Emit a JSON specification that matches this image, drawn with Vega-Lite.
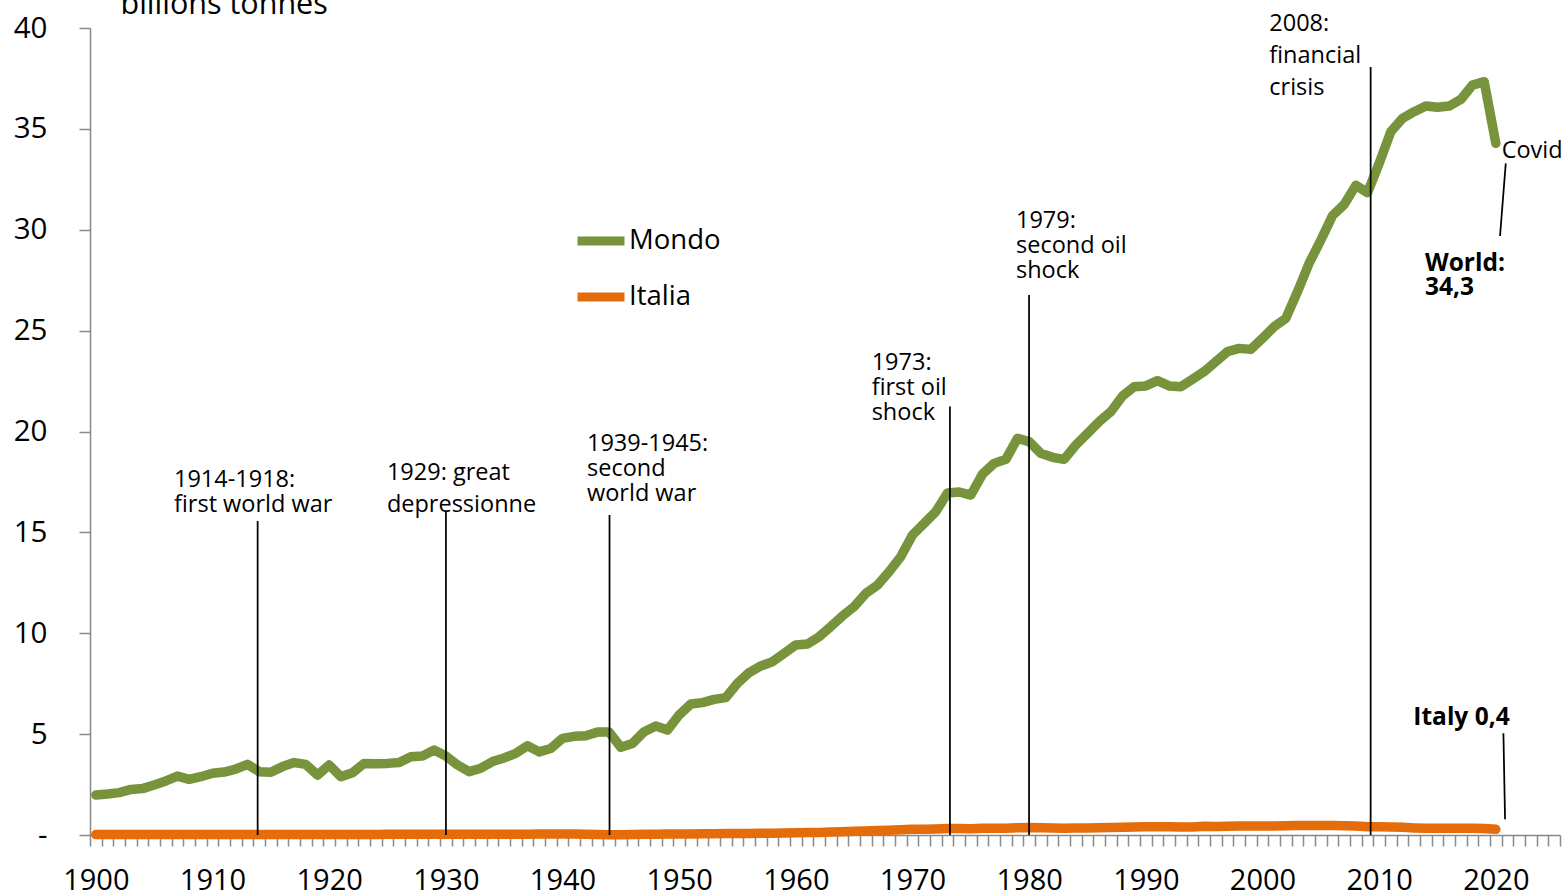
{
  "$schema": "https://vega.github.io/schema/vega-lite/v6.json",
  "width": 1470,
  "height": 807,
  "autosize": {"type": "none"},
  "padding": {"left": 90, "top": 28, "right": 2, "bottom": 60},
  "background": "white",
  "config": {"font": "Open Sans", "view": {"stroke": null}},
  "datasets": {
    "series": [
      {"year":1900,"series":"Mondo","value":1.98},{"year":1901,"series":"Mondo","value":2.03},{"year":1902,"series":"Mondo","value":2.10},{"year":1903,"series":"Mondo","value":2.26},{"year":1904,"series":"Mondo","value":2.30},{"year":1905,"series":"Mondo","value":2.48},{"year":1906,"series":"Mondo","value":2.68},{"year":1907,"series":"Mondo","value":2.92},{"year":1908,"series":"Mondo","value":2.76},{"year":1909,"series":"Mondo","value":2.89},
      {"year":1910,"series":"Mondo","value":3.06},{"year":1911,"series":"Mondo","value":3.12},{"year":1912,"series":"Mondo","value":3.27},{"year":1913,"series":"Mondo","value":3.50},{"year":1914,"series":"Mondo","value":3.14},{"year":1915,"series":"Mondo","value":3.11},{"year":1916,"series":"Mondo","value":3.39},{"year":1917,"series":"Mondo","value":3.59},{"year":1918,"series":"Mondo","value":3.50},{"year":1919,"series":"Mondo","value":2.97},
      {"year":1920,"series":"Mondo","value":3.47},{"year":1921,"series":"Mondo","value":2.89},{"year":1922,"series":"Mondo","value":3.09},{"year":1923,"series":"Mondo","value":3.55},{"year":1924,"series":"Mondo","value":3.53},{"year":1925,"series":"Mondo","value":3.55},{"year":1926,"series":"Mondo","value":3.59},{"year":1927,"series":"Mondo","value":3.88},{"year":1928,"series":"Mondo","value":3.92},{"year":1929,"series":"Mondo","value":4.21},
      {"year":1930,"series":"Mondo","value":3.92},{"year":1931,"series":"Mondo","value":3.47},{"year":1932,"series":"Mondo","value":3.14},{"year":1933,"series":"Mondo","value":3.31},{"year":1934,"series":"Mondo","value":3.64},{"year":1935,"series":"Mondo","value":3.82},{"year":1936,"series":"Mondo","value":4.05},{"year":1937,"series":"Mondo","value":4.42},{"year":1938,"series":"Mondo","value":4.12},{"year":1939,"series":"Mondo","value":4.29},
      {"year":1940,"series":"Mondo","value":4.79},{"year":1941,"series":"Mondo","value":4.89},{"year":1942,"series":"Mondo","value":4.92},{"year":1943,"series":"Mondo","value":5.10},{"year":1944,"series":"Mondo","value":5.10},{"year":1945,"series":"Mondo","value":4.35},{"year":1946,"series":"Mondo","value":4.54},{"year":1947,"series":"Mondo","value":5.12},{"year":1948,"series":"Mondo","value":5.40},{"year":1949,"series":"Mondo","value":5.20},
      {"year":1950,"series":"Mondo","value":5.95},{"year":1951,"series":"Mondo","value":6.49},{"year":1952,"series":"Mondo","value":6.56},{"year":1953,"series":"Mondo","value":6.72},{"year":1954,"series":"Mondo","value":6.81},{"year":1955,"series":"Mondo","value":7.52},{"year":1956,"series":"Mondo","value":8.05},{"year":1957,"series":"Mondo","value":8.38},{"year":1958,"series":"Mondo","value":8.59},{"year":1959,"series":"Mondo","value":9.00},
      {"year":1960,"series":"Mondo","value":9.42},{"year":1961,"series":"Mondo","value":9.47},{"year":1962,"series":"Mondo","value":9.83},{"year":1963,"series":"Mondo","value":10.33},{"year":1964,"series":"Mondo","value":10.86},{"year":1965,"series":"Mondo","value":11.32},{"year":1966,"series":"Mondo","value":11.98},{"year":1967,"series":"Mondo","value":12.39},{"year":1968,"series":"Mondo","value":13.05},{"year":1969,"series":"Mondo","value":13.80},
      {"year":1970,"series":"Mondo","value":14.87},{"year":1971,"series":"Mondo","value":15.45},{"year":1972,"series":"Mondo","value":16.03},{"year":1973,"series":"Mondo","value":16.95},{"year":1974,"series":"Mondo","value":17.00},{"year":1975,"series":"Mondo","value":16.85},{"year":1976,"series":"Mondo","value":17.89},{"year":1977,"series":"Mondo","value":18.42},{"year":1978,"series":"Mondo","value":18.62},{"year":1979,"series":"Mondo","value":19.66},
      {"year":1980,"series":"Mondo","value":19.50},{"year":1981,"series":"Mondo","value":18.92},{"year":1982,"series":"Mondo","value":18.72},{"year":1983,"series":"Mondo","value":18.62},{"year":1984,"series":"Mondo","value":19.33},{"year":1985,"series":"Mondo","value":19.91},{"year":1986,"series":"Mondo","value":20.49},{"year":1987,"series":"Mondo","value":20.98},{"year":1988,"series":"Mondo","value":21.76},{"year":1989,"series":"Mondo","value":22.22},
      {"year":1990,"series":"Mondo","value":22.26},{"year":1991,"series":"Mondo","value":22.52},{"year":1992,"series":"Mondo","value":22.26},{"year":1993,"series":"Mondo","value":22.22},{"year":1994,"series":"Mondo","value":22.59},{"year":1995,"series":"Mondo","value":22.97},{"year":1996,"series":"Mondo","value":23.46},{"year":1997,"series":"Mondo","value":23.96},{"year":1998,"series":"Mondo","value":24.12},{"year":1999,"series":"Mondo","value":24.07},
      {"year":2000,"series":"Mondo","value":24.62},{"year":2001,"series":"Mondo","value":25.20},{"year":2002,"series":"Mondo","value":25.61},{"year":2003,"series":"Mondo","value":26.93},{"year":2004,"series":"Mondo","value":28.34},{"year":2005,"series":"Mondo","value":29.49},{"year":2006,"series":"Mondo","value":30.70},{"year":2007,"series":"Mondo","value":31.25},{"year":2008,"series":"Mondo","value":32.20},{"year":2009,"series":"Mondo","value":31.84},
      {"year":2010,"series":"Mondo","value":33.29},{"year":2011,"series":"Mondo","value":34.86},{"year":2012,"series":"Mondo","value":35.52},{"year":2013,"series":"Mondo","value":35.85},{"year":2014,"series":"Mondo","value":36.13},{"year":2015,"series":"Mondo","value":36.07},{"year":2016,"series":"Mondo","value":36.13},{"year":2017,"series":"Mondo","value":36.46},{"year":2018,"series":"Mondo","value":37.17},{"year":2019,"series":"Mondo","value":37.34},
      {"year":2020,"series":"Mondo","value":34.28},
      {"year":1900,"series":"Italia","value":0.02},{"year":1901,"series":"Italia","value":0.02},{"year":1902,"series":"Italia","value":0.02},{"year":1903,"series":"Italia","value":0.02},{"year":1904,"series":"Italia","value":0.02},{"year":1905,"series":"Italia","value":0.02},{"year":1906,"series":"Italia","value":0.03},{"year":1907,"series":"Italia","value":0.03},{"year":1908,"series":"Italia","value":0.03},{"year":1909,"series":"Italia","value":0.03},
      {"year":1910,"series":"Italia","value":0.03},{"year":1911,"series":"Italia","value":0.03},{"year":1912,"series":"Italia","value":0.03},{"year":1913,"series":"Italia","value":0.03},{"year":1914,"series":"Italia","value":0.03},{"year":1915,"series":"Italia","value":0.03},{"year":1916,"series":"Italia","value":0.03},{"year":1917,"series":"Italia","value":0.03},{"year":1918,"series":"Italia","value":0.03},{"year":1919,"series":"Italia","value":0.02},
      {"year":1920,"series":"Italia","value":0.03},{"year":1921,"series":"Italia","value":0.03},{"year":1922,"series":"Italia","value":0.03},{"year":1923,"series":"Italia","value":0.03},{"year":1924,"series":"Italia","value":0.03},{"year":1925,"series":"Italia","value":0.04},{"year":1926,"series":"Italia","value":0.04},{"year":1927,"series":"Italia","value":0.04},{"year":1928,"series":"Italia","value":0.04},{"year":1929,"series":"Italia","value":0.04},
      {"year":1930,"series":"Italia","value":0.04},{"year":1931,"series":"Italia","value":0.04},{"year":1932,"series":"Italia","value":0.04},{"year":1933,"series":"Italia","value":0.04},{"year":1934,"series":"Italia","value":0.04},{"year":1935,"series":"Italia","value":0.04},{"year":1936,"series":"Italia","value":0.04},{"year":1937,"series":"Italia","value":0.04},{"year":1938,"series":"Italia","value":0.05},{"year":1939,"series":"Italia","value":0.05},
      {"year":1940,"series":"Italia","value":0.05},{"year":1941,"series":"Italia","value":0.05},{"year":1942,"series":"Italia","value":0.04},{"year":1943,"series":"Italia","value":0.03},{"year":1944,"series":"Italia","value":0.01},{"year":1945,"series":"Italia","value":0.01},{"year":1946,"series":"Italia","value":0.03},{"year":1947,"series":"Italia","value":0.04},{"year":1948,"series":"Italia","value":0.04},{"year":1949,"series":"Italia","value":0.05},
      {"year":1950,"series":"Italia","value":0.05},{"year":1951,"series":"Italia","value":0.05},{"year":1952,"series":"Italia","value":0.06},{"year":1953,"series":"Italia","value":0.06},{"year":1954,"series":"Italia","value":0.07},{"year":1955,"series":"Italia","value":0.07},{"year":1956,"series":"Italia","value":0.08},{"year":1957,"series":"Italia","value":0.09},{"year":1958,"series":"Italia","value":0.09},{"year":1959,"series":"Italia","value":0.10},
      {"year":1960,"series":"Italia","value":0.11},{"year":1961,"series":"Italia","value":0.12},{"year":1962,"series":"Italia","value":0.13},{"year":1963,"series":"Italia","value":0.15},{"year":1964,"series":"Italia","value":0.16},{"year":1965,"series":"Italia","value":0.18},{"year":1966,"series":"Italia","value":0.20},{"year":1967,"series":"Italia","value":0.22},{"year":1968,"series":"Italia","value":0.24},{"year":1969,"series":"Italia","value":0.26},
      {"year":1970,"series":"Italia","value":0.28},{"year":1971,"series":"Italia","value":0.29},{"year":1972,"series":"Italia","value":0.30},{"year":1973,"series":"Italia","value":0.32},{"year":1974,"series":"Italia","value":0.32},{"year":1975,"series":"Italia","value":0.31},{"year":1976,"series":"Italia","value":0.33},{"year":1977,"series":"Italia","value":0.33},{"year":1978,"series":"Italia","value":0.34},{"year":1979,"series":"Italia","value":0.36},
      {"year":1980,"series":"Italia","value":0.37},{"year":1981,"series":"Italia","value":0.36},{"year":1982,"series":"Italia","value":0.35},{"year":1983,"series":"Italia","value":0.34},{"year":1984,"series":"Italia","value":0.35},{"year":1985,"series":"Italia","value":0.35},{"year":1986,"series":"Italia","value":0.36},{"year":1987,"series":"Italia","value":0.37},{"year":1988,"series":"Italia","value":0.38},{"year":1989,"series":"Italia","value":0.40},
      {"year":1990,"series":"Italia","value":0.41},{"year":1991,"series":"Italia","value":0.41},{"year":1992,"series":"Italia","value":0.41},{"year":1993,"series":"Italia","value":0.40},{"year":1994,"series":"Italia","value":0.40},{"year":1995,"series":"Italia","value":0.43},{"year":1996,"series":"Italia","value":0.42},{"year":1997,"series":"Italia","value":0.43},{"year":1998,"series":"Italia","value":0.44},{"year":1999,"series":"Italia","value":0.45},
      {"year":2000,"series":"Italia","value":0.45},{"year":2001,"series":"Italia","value":0.45},{"year":2002,"series":"Italia","value":0.46},{"year":2003,"series":"Italia","value":0.47},{"year":2004,"series":"Italia","value":0.47},{"year":2005,"series":"Italia","value":0.47},{"year":2006,"series":"Italia","value":0.47},{"year":2007,"series":"Italia","value":0.46},{"year":2008,"series":"Italia","value":0.45},{"year":2009,"series":"Italia","value":0.41},
      {"year":2010,"series":"Italia","value":0.41},{"year":2011,"series":"Italia","value":0.40},{"year":2012,"series":"Italia","value":0.38},{"year":2013,"series":"Italia","value":0.35},{"year":2014,"series":"Italia","value":0.33},{"year":2015,"series":"Italia","value":0.34},{"year":2016,"series":"Italia","value":0.34},{"year":2017,"series":"Italia","value":0.34},{"year":2018,"series":"Italia","value":0.33},{"year":2019,"series":"Italia","value":0.32},
      {"year":2020,"series":"Italia","value":0.28}
    ],
    "rules": [
      {"x1": 1913.87, "x2": 1913.87, "y1": 15.56, "y2": 0},
      {"x1": 1930.01, "x2": 1930.01, "y1": 16.01, "y2": 0},
      {"x1": 1944.03, "x2": 1944.03, "y1": 15.86, "y2": 0},
      {"x1": 1973.21, "x2": 1973.21, "y1": 21.24, "y2": 0},
      {"x1": 1979.99, "x2": 1979.99, "y1": 26.77, "y2": 0},
      {"x1": 2009.27, "x2": 2009.27, "y1": 38.07, "y2": 0},
      {"x1": 2020.85, "x2": 2020.36, "y1": 33.29, "y2": 29.69},
      {"x1": 2020.65, "x2": 2020.79, "y1": 5.04, "y2": 0.78}
    ],
    "labels": [
      {"x": 1906.7, "y": 17.25, "text": "1914-1918:\nfirst world war", "g": "n"},
      {"x": 1924.95, "y": 17.6, "text": "1929: great\ndepressionne", "g": "w"},
      {"x": 1942.1, "y": 19.02, "text": "1939-1945:\nsecond\nworld war", "g": "n"},
      {"x": 1966.5, "y": 23.05, "text": "1973:\nfirst oil\nshock", "g": "n"},
      {"x": 1978.87, "y": 30.07, "text": "1979:\nsecond oil\nshock", "g": "n"},
      {"x": 2000.58, "y": 39.87, "text": "2008:\nfinancial\ncrisis", "g": "w"},
      {"x": 2020.5, "y": 33.54, "text": "Covid", "g": "n"},
      {"x": 2013.93, "y": 27.97, "text": "World:\n34,3", "g": "b"},
      {"x": 2012.93, "y": 5.45, "text": "Italy 0,4", "g": "b"}
    ]
  },
  "resolve": {"axis": {"x": "independent", "y": "independent"}},
  "layer": [
    {
      "data": {"name": "series"},
      "mark": {"type": "line", "strokeWidth": 9.5, "strokeCap": "round", "strokeJoin": "round"},
      "encoding": {
        "x": {
          "field": "year", "type": "quantitative",
          "scale": {"domain": [1899.5, 2025.5], "nice": false, "zero": false},
          "axis": {
            "orient": "bottom", "title": null, "grid": false, "labels": false,
            "values": [1899.5,1900.5,1901.5,1902.5,1903.5,1904.5,1905.5,1906.5,1907.5,1908.5,1909.5,1910.5,1911.5,1912.5,1913.5,1914.5,1915.5,1916.5,1917.5,1918.5,1919.5,1920.5,1921.5,1922.5,1923.5,1924.5,1925.5,1926.5,1927.5,1928.5,1929.5,1930.5,1931.5,1932.5,1933.5,1934.5,1935.5,1936.5,1937.5,1938.5,1939.5,1940.5,1941.5,1942.5,1943.5,1944.5,1945.5,1946.5,1947.5,1948.5,1949.5,1950.5,1951.5,1952.5,1953.5,1954.5,1955.5,1956.5,1957.5,1958.5,1959.5,1960.5,1961.5,1962.5,1963.5,1964.5,1965.5,1966.5,1967.5,1968.5,1969.5,1970.5,1971.5,1972.5,1973.5,1974.5,1975.5,1976.5,1977.5,1978.5,1979.5,1980.5,1981.5,1982.5,1983.5,1984.5,1985.5,1986.5,1987.5,1988.5,1989.5,1990.5,1991.5,1992.5,1993.5,1994.5,1995.5,1996.5,1997.5,1998.5,1999.5,2000.5,2001.5,2002.5,2003.5,2004.5,2005.5,2006.5,2007.5,2008.5,2009.5,2010.5,2011.5,2012.5,2013.5,2014.5,2015.5,2016.5,2017.5,2018.5,2019.5,2020.5,2021.5,2022.5,2023.5,2024.5,2025.5],
            "tickSize": 11, "tickColor": "#898989", "tickWidth": 1.5,
            "domainColor": "#898989", "domainWidth": 1.5
          }
        },
        "y": {
          "field": "value", "type": "quantitative",
          "scale": {"domain": [0, 40], "nice": false, "zero": true},
          "axis": {
            "orient": "left",
            "values": [0, 5, 10, 15, 20, 25, 30, 35, 40],
            "labelExpr": "datum.value == 0 ? '-\u00a0\u00a0' : datum.label",
            "labelFontSize": 29.5, "labelColor": "black", "labelPadding": 32,
            "tickSize": 11, "tickColor": "#898989", "tickWidth": 1.5,
            "domainColor": "#898989", "domainWidth": 1.5, "grid": false,
            "title": "billions tonnes", "titleAngle": 0, "titleAlign": "left",
            "titleBaseline": "alphabetic", "titleX": 30, "titleY": -14.7,
            "titleFontSize": 30.5, "titleFontWeight": "normal", "titleColor": "black"
          }
        },
        "color": {
          "field": "series", "type": "nominal",
          "scale": {"domain": ["Mondo", "Italia"], "range": ["#77933C", "#E46C0A"]},
          "legend": {
            "orient": "none", "legendX": 483, "legendY": 185, "title": null,
            "direction": "vertical", "symbolType": "stroke", "symbolSize": 2209,
            "symbolStrokeWidth": 9, "labelFontSize": 27.5, "labelColor": "black",
            "labelOffset": 0, "rowPadding": 10, "padding": 0
          }
        }
      }
    },
    {
      "data": {"name": "rules"},
      "mark": {"type": "rule", "color": "black", "strokeWidth": 1.75},
      "encoding": {
        "x": {
          "field": "x1", "type": "quantitative",
          "scale": {"domain": [1899.5, 2025.5], "nice": false, "zero": false},
          "axis": {
            "orient": "bottom", "title": null, "grid": false, "ticks": false, "tickSize": 0,
            "domain": false, "format": "d", "labelFontSize": 29, "labelColor": "black",
            "labelPadding": 31, "labelOverlap": false, "labelFlush": false,
            "values": [1900, 1910, 1920, 1930, 1940, 1950, 1960, 1970, 1980, 1990, 2000, 2010, 2020]
          }
        },
        "x2": {"field": "x2"},
        "y": {"field": "y1", "type": "quantitative", "scale": {"domain": [0, 40], "nice": false}, "axis": null},
        "y2": {"field": "y2"}
      }
    },
    {
      "data": {"name": "labels"},
      "transform": [{"filter": "datum.g == 'n'"}],
      "mark": {"type": "text", "align": "left", "baseline": "alphabetic", "fontSize": 23.5, "lineBreak": "\n", "lineHeight": 25, "color": "black"},
      "encoding": {
        "x": {"field": "x", "type": "quantitative", "scale": {"domain": [1899.5, 2025.5], "nice": false, "zero": false}, "axis": null},
        "y": {"field": "y", "type": "quantitative", "scale": {"domain": [0, 40], "nice": false}, "axis": null},
        "text": {"field": "text"}
      }
    },
    {
      "data": {"name": "labels"},
      "transform": [{"filter": "datum.g == 'w'"}],
      "mark": {"type": "text", "align": "left", "baseline": "alphabetic", "fontSize": 23.5, "lineBreak": "\n", "lineHeight": 32.3, "color": "black"},
      "encoding": {
        "x": {"field": "x", "type": "quantitative", "scale": {"domain": [1899.5, 2025.5], "nice": false, "zero": false}, "axis": null},
        "y": {"field": "y", "type": "quantitative", "scale": {"domain": [0, 40], "nice": false}, "axis": null},
        "text": {"field": "text"}
      }
    },
    {
      "data": {"name": "labels"},
      "transform": [{"filter": "datum.g == 'b'"}],
      "mark": {"type": "text", "align": "left", "baseline": "alphabetic", "fontSize": 24.5, "fontWeight": "bold", "lineBreak": "\n", "lineHeight": 24.3, "color": "black"},
      "encoding": {
        "x": {"field": "x", "type": "quantitative", "scale": {"domain": [1899.5, 2025.5], "nice": false, "zero": false}, "axis": null},
        "y": {"field": "y", "type": "quantitative", "scale": {"domain": [0, 40], "nice": false}, "axis": null},
        "text": {"field": "text"}
      }
    }
  ]
}
